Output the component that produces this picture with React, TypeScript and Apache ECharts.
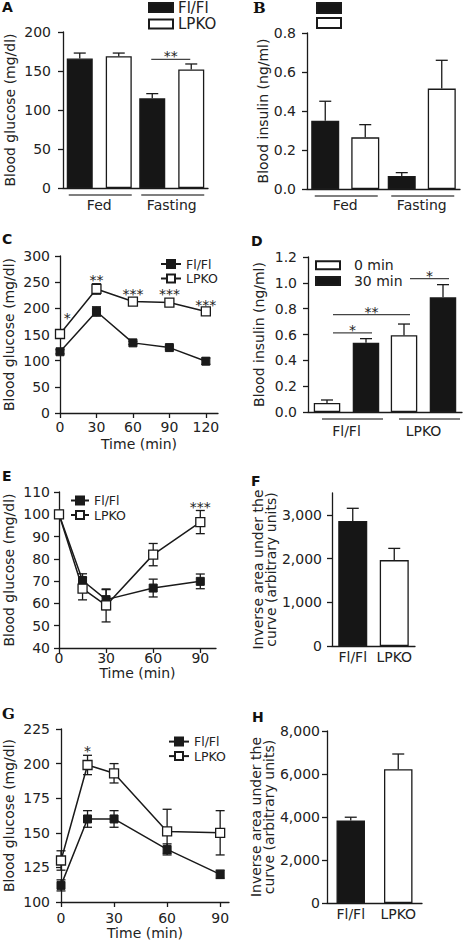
import React, { useEffect, useRef } from 'react';
import * as echarts from 'echarts';

const FONT = "'DejaVu Sans', 'Liberation Sans', Arial, sans-serif";
const SERIF = "'DejaVu Serif', 'Liberation Serif', serif";
const INK = '#1a1a1a';
const TEXT = '#222222';
const BLACK_FILL = '#161616';
const WHITE_FILL = '#ffffff';
const GREY_LINE = '#555555';

// ---------- Panel A: blood glucose, fed / fasting ----------
const feedingStates = ['Fed', 'Fasting'];
const aGlucoseFlFl = [166, 115];
const aGlucoseFlFlSem = [7, 6];
const aGlucoseLPKO = [169, 152];
const aGlucoseLPKOSem = [4, 7];
const aSigFromCat = [1];
const aSigFromSlot = [-1];
const aSigToCat = [1];
const aSigToSlot = [1];
const aSigLevels = [165];
const aSigLabels = ['**'];

// ---------- Panel B: blood insulin, fed / fasting ----------
const bInsulinFlFl = [0.35, 0.067];
const bInsulinFlFlSem = [0.1, 0.017];
const bInsulinLPKO = [0.265, 0.515];
const bInsulinLPKOSem = [0.065, 0.145];

// ---------- Panel C: glucose tolerance ----------
const cTimes = [0, 30, 60, 90, 120];
const cFlFl = [117, 194, 134, 125, 99];
const cFlFlSem = [4, 9, 3, 3, 6];
const cLPKO = [151, 237, 213, 211, 194];
const cLPKOSem = [5, 10, 5, 5, 4];
const cStarTimes = [6, 30, 60, 90, 120];
const cStarLevels = [188, 259, 233, 233, 213];
const cStarLabels = ['*', '**', '***', '***', '***'];

// ---------- Panel D: insulin at 0 / 30 min ----------
const genotypes = ['Fl/Fl', 'LPKO'];
const dInsulin0 = [0.07, 0.594];
const dInsulin0Sem = [0.023, 0.087];
const dInsulin30 = [0.537, 0.888];
const dInsulin30Sem = [0.031, 0.098];
const dSigFromCat = [0, 0, 1];
const dSigFromSlot = [-1, -1, -1];
const dSigToCat = [0, 1, 1];
const dSigToSlot = [1, -1, 1];
const dSigLevels = [0.612, 0.754, 1.032];
const dSigLabels = ['*', '**', '*'];

// ---------- Panel E: insulin tolerance ----------
const eTimes = [0, 15, 30, 60, 90];
const eFlFl = [100, 70.3, 61.7, 66.9, 69.9];
const eFlFlSem = [0, 3, 4.5, 4, 3.3];
const eLPKO = [100, 66.6, 59.1, 81.9, 96.5];
const eLPKOSem = [0, 5, 7.4, 5, 5.2];
const eStarTimes = [90];
const eStarLevels = [104.7];
const eStarLabels = ['***'];

// ---------- Panel F: inverse AUC (ITT) ----------
const fAuc = [2860, 1965];
const fAucSem = [290, 268];

// ---------- Panel G: pyruvate tolerance ----------
const gTimes = [0, 15, 30, 60, 90];
const gFlFl = [112, 160, 160, 138, 120];
const gFlFlSem = [4, 6, 6, 4, 3];
const gLPKO = [130, 199, 193, 151, 150];
const gLPKOSem = [7, 7, 7, 16, 16];
const gStarTimes = [15];
const gStarLevels = [211];
const gStarLabels = ['*'];

// ---------- Panel H: inverse AUC (PTT) ----------
const hAuc = [3840, 6220];
const hAucSem = [150, 710];

const genotypeFills = [BLACK_FILL, WHITE_FILL];

const lineStyleInk = { stroke: INK, lineWidth: 1.3 };

function yAxis(gi: number, o: any) {
  return {
    type: 'value',
    gridIndex: gi,
    min: o.min,
    max: o.max,
    interval: o.interval,
    name: o.name,
    nameLocation: 'middle',
    nameRotate: 90,
    nameGap: o.nameGap,
    nameTextStyle: { fontFamily: FONT, fontSize: 14, fontWeight: 'normal', color: TEXT, lineHeight: o.nameLineHeight || 14 },
    axisLine: { show: true, onZero: false, lineStyle: { color: INK, width: 1.3 } },
    axisTick: { show: true, length: 5, lineStyle: { color: INK, width: 1.3 }, customValues: o.ticks },
    axisLabel: { fontFamily: FONT, fontSize: 14, fontWeight: 'normal', color: TEXT, margin: o.margin, formatter: o.fmt, customValues: o.ticks },
    splitLine: { show: false },
  };
}

function timeAxis(gi: number, o: any) {
  return {
    type: 'value',
    gridIndex: gi,
    min: 0,
    max: o.max,
    interval: 30,
    name: 'Time (min)',
    nameLocation: 'middle',
    nameGap: o.nameGap,
    nameTextStyle: { fontFamily: FONT, fontSize: 14, fontWeight: 'normal', color: TEXT },
    axisLine: { show: true, onZero: false, lineStyle: { color: INK, width: 1.3 } },
    axisTick: { show: true, length: 5, lineStyle: { color: INK, width: 1.3 }, customValues: o.ticks },
    axisLabel: { fontFamily: FONT, fontSize: 14, fontWeight: 'normal', color: TEXT, margin: o.margin, customValues: o.ticks },
    splitLine: { show: false },
  };
}

function catAxis(gi: number, cats: string[], margin: number) {
  return {
    type: 'category',
    gridIndex: gi,
    data: cats,
    axisLine: { show: true, onZero: false, lineStyle: { color: INK, width: 1.3 } },
    axisTick: { show: false },
    axisLabel: { fontFamily: FONT, fontSize: 14, fontWeight: 'normal', color: TEXT, margin, interval: 0 },
    splitLine: { show: false },
  };
}

function barSeries(name: string, gi: number, data: any[], fill: string, width: number, gap: string) {
  return {
    name,
    type: 'bar',
    xAxisIndex: gi,
    yAxisIndex: gi,
    data,
    barWidth: width,
    barGap: gap,
    itemStyle: { color: fill, borderColor: INK, borderWidth: 1.3 },
    z: 2,
  };
}

function barErr(gi: number, values: number[], sems: number[], offsetPx: number) {
  return {
    type: 'custom',
    xAxisIndex: gi,
    yAxisIndex: gi,
    silent: true,
    clip: false,
    z: 3,
    data: values.map((v, i) => [i, v, sems[i]]),
    renderItem: (params: any, api: any) => {
      const c = api.value(0);
      const v = api.value(1);
      const e = api.value(2);
      const base = api.coord([c, v]);
      const tip = api.coord([c, v + e]);
      const x = base[0] + offsetPx;
      return {
        type: 'group',
        children: [
          { type: 'line', shape: { x1: x, y1: base[1], x2: x, y2: tip[1] }, style: lineStyleInk },
          { type: 'line', shape: { x1: x - 6, y1: tip[1], x2: x + 6, y2: tip[1] }, style: lineStyleInk },
        ],
      };
    },
  };
}

function lineErr(gi: number, times: number[], values: number[], sems: number[]) {
  return {
    type: 'custom',
    xAxisIndex: gi,
    yAxisIndex: gi,
    silent: true,
    clip: false,
    z: 2,
    data: times.map((t, i) => [t, values[i], sems[i]]),
    renderItem: (params: any, api: any) => {
      const t = api.value(0);
      const v = api.value(1);
      const e = api.value(2);
      if (!e) return null;
      const lo = api.coord([t, v - e]);
      const hi = api.coord([t, v + e]);
      const x = lo[0];
      return {
        type: 'group',
        children: [
          { type: 'line', shape: { x1: x, y1: lo[1], x2: x, y2: hi[1] }, style: lineStyleInk },
          { type: 'line', shape: { x1: x - 4.5, y1: lo[1], x2: x + 4.5, y2: lo[1] }, style: lineStyleInk },
          { type: 'line', shape: { x1: x - 4.5, y1: hi[1], x2: x + 4.5, y2: hi[1] }, style: lineStyleInk },
        ],
      };
    },
  };
}

function lineSeries(name: string, gi: number, times: number[], values: number[], filled: boolean) {
  return {
    name,
    type: 'line',
    xAxisIndex: gi,
    yAxisIndex: gi,
    data: times.map((t, i) => [t, values[i]]),
    symbol: 'rect',
    symbolSize: filled ? 8 : 9,
    showSymbol: true,
    lineStyle: { color: INK, width: 1.5 },
    itemStyle: filled
      ? { color: INK, borderColor: INK, borderWidth: 1 }
      : { color: WHITE_FILL, borderColor: INK, borderWidth: 1.3 },
    z: 4,
  };
}

function starSeries(gi: number, xs: number[], ys: number[], labels: string[]) {
  return {
    type: 'custom',
    xAxisIndex: gi,
    yAxisIndex: gi,
    silent: true,
    clip: false,
    z: 5,
    data: xs.map((x, i) => [x, ys[i]]),
    renderItem: (params: any, api: any) => {
      const p = api.coord([api.value(0), api.value(1)]);
      return {
        type: 'text',
        style: {
          text: labels[params.dataIndex],
          x: p[0],
          y: p[1] + 3,
          align: 'center',
          verticalAlign: 'middle',
          fontFamily: FONT,
          fontSize: 14,
          fill: TEXT,
        },
      };
    },
  };
}

function bracketSeries(
  gi: number,
  fromCat: number[],
  fromSlot: number[],
  toCat: number[],
  toSlot: number[],
  levels: number[],
  labels: string[],
  slotPx: number,
  shiftPx: number,
) {
  return {
    type: 'custom',
    xAxisIndex: gi,
    yAxisIndex: gi,
    silent: true,
    clip: false,
    z: 5,
    data: levels.map((l, i) => [fromCat[i], l]),
    renderItem: (params: any, api: any) => {
      const i = params.dataIndex;
      const p1 = api.coord([fromCat[i], levels[i]]);
      const p2 = api.coord([toCat[i], levels[i]]);
      const x1 = p1[0] + fromSlot[i] * slotPx + shiftPx;
      const x2 = p2[0] + toSlot[i] * slotPx + shiftPx;
      const y = p1[1];
      return {
        type: 'group',
        children: [
          { type: 'line', shape: { x1, y1: y, x2, y2: y }, style: { stroke: '#444', lineWidth: 1.3 } },
          {
            type: 'text',
            style: {
              text: labels[i],
              x: (x1 + x2) / 2,
              y: y - 3,
              align: 'center',
              verticalAlign: 'middle',
              fontFamily: FONT,
              fontSize: 14,
              fill: TEXT,
            },
          },
        ],
      };
    },
  };
}

function underline(gi: number, cats: string[], halfWidth: number, dx: number) {
  return {
    type: 'custom',
    xAxisIndex: gi,
    yAxisIndex: gi,
    silent: true,
    clip: false,
    z: 1,
    data: cats.map((_, i) => [i, 0]),
    renderItem: (params: any, api: any) => {
      const p = api.coord([api.value(0), 0]);
      return {
        type: 'line',
        shape: { x1: p[0] + dx - halfWidth, y1: p[1] + 7, x2: p[0] + dx + halfWidth, y2: p[1] + 7 },
        style: { stroke: GREY_LINE, lineWidth: 1.5 },
      };
    },
  };
}

function legend(names: string[], o: any) {
  return {
    data: names,
    orient: 'vertical',
    left: o.left,
    top: o.top,
    padding: 0,
    itemGap: o.gap,
    itemWidth: o.w,
    itemHeight: o.h,
    icon: o.icon,
    selectedMode: false,
    formatter: o.formatter || ((n: string) => n.split('|')[1]),
    textStyle: { fontFamily: FONT, fontSize: o.fontSize || 14, fontWeight: 'normal', color: TEXT, lineHeight: o.lh },
  };
}

function panelTitle(text: string, left: number, top: number, serif: boolean) {
  return {
    text,
    left,
    top,
    padding: 0,
    textStyle: { fontFamily: serif ? SERIF : FONT, fontWeight: 'bold', fontSize: serif ? 15 : 14, color: '#111' },
  };
}

const commaFmt = (v: number) => v.toLocaleString('en-US');
const oneDec = (v: number) => v.toFixed(1);

function buildOption() {
  const grids = [
    { left: 63, top: 32, width: 145, height: 156 },
    { left: 307, top: 33, width: 153, height: 156 },
    { left: 60, top: 256, width: 158, height: 157 },
    { left: 308, top: 257, width: 154, height: 155 },
    { left: 59, top: 492, width: 157, height: 156 },
    { left: 332, top: 493, width: 83, height: 153 },
    { left: 61, top: 729, width: 168, height: 173 },
    { left: 327, top: 731, width: 95, height: 172 },
  ].map((g) => ({ ...g, containLabel: false, outerBoundsMode: 'none' }));

  const xAxes = [
    catAxis(0, feedingStates, 10),
    catAxis(1, feedingStates, 9),
    timeAxis(2, { max: 130, ticks: [0, 30, 60, 90, 120], nameGap: 24, margin: 7 }),
    catAxis(3, genotypes, 12),
    timeAxis(4, { max: 100, ticks: [0, 30, 60, 90], nameGap: 17, margin: 3 }),
    catAxis(5, genotypes, 4),
    timeAxis(6, { max: 95, ticks: [0, 30, 60, 90], nameGap: 23, margin: 9 }),
    catAxis(7, genotypes, 4),
  ];

  const twoLine = 'Inverse area under the\ncurve (arbitrary units)';
  const yAxes = [
    yAxis(0, { min: 0, max: 200, interval: 50, name: 'Blood glucose (mg/dl)', nameGap: 46, margin: 12 }),
    yAxis(1, { min: 0, max: 0.8, interval: 0.2, name: 'Blood insulin (ng/ml)', nameGap: 37, margin: 11, fmt: oneDec }),
    yAxis(2, { min: 0, max: 300, interval: 50, name: 'Blood glucose (mg/dl)', nameGap: 44, margin: 10 }),
    yAxis(3, { min: 0, max: 1.2, interval: 0.2, name: 'Blood insulin (ng/ml)', nameGap: 42, margin: 11, fmt: oneDec }),
    yAxis(4, { min: 40, max: 110, interval: 10, name: 'Blood glucose (mg/dl)', nameGap: 43, margin: 9 }),
    yAxis(5, { min: 0, max: 3500, interval: 1000, ticks: [0, 1000, 2000, 3000], name: twoLine, nameGap: 50, nameLineHeight: 13, margin: 10, fmt: commaFmt }),
    yAxis(6, { min: 100, max: 225, interval: 25, name: 'Blood glucose (mg/dl)', nameGap: 45, margin: 11 }),
    yAxis(7, { min: 0, max: 8000, interval: 2000, name: twoLine, nameGap: 47, nameLineHeight: 13, margin: 7, fmt: commaFmt }),
  ];

  const series: any[] = [
    // A
    barSeries('A|Fl/Fl', 0, aGlucoseFlFl, BLACK_FILL, 26, '50%'),
    barSeries('A|LPKO', 0, aGlucoseLPKO, WHITE_FILL, 26, '50%'),
    barErr(0, aGlucoseFlFl, aGlucoseFlFlSem, -19.5),
    barErr(0, aGlucoseLPKO, aGlucoseLPKOSem, 19.5),
    bracketSeries(0, aSigFromCat, aSigFromSlot, aSigToCat, aSigToSlot, aSigLevels, aSigLabels, 19.5, -1),
    underline(0, feedingStates, 31.5, 1),
    // B
    barSeries('B|Fl/Fl', 1, bInsulinFlFl, BLACK_FILL, 28, '43%'),
    barSeries('B|LPKO', 1, bInsulinLPKO, WHITE_FILL, 28, '43%'),
    barErr(1, bInsulinFlFl, bInsulinFlFlSem, -20),
    barErr(1, bInsulinLPKO, bInsulinLPKOSem, 20),
    underline(1, feedingStates, 31.5, 1),
    // C
    lineErr(2, cTimes, cFlFl, cFlFlSem),
    lineErr(2, cTimes, cLPKO, cLPKOSem),
    lineSeries('C|Fl/Fl', 2, cTimes, cFlFl, true),
    lineSeries('C|LPKO', 2, cTimes, cLPKO, false),
    starSeries(2, cStarTimes, cStarLevels, cStarLabels),
    // D
    barSeries('D|0 min', 3, dInsulin0, WHITE_FILL, 26.5, '47%'),
    barSeries('D|30 min', 3, dInsulin30, BLACK_FILL, 26.5, '47%'),
    barErr(3, dInsulin0, dInsulin0Sem, -19.5),
    barErr(3, dInsulin30, dInsulin30Sem, 19.5),
    bracketSeries(3, dSigFromCat, dSigFromSlot, dSigToCat, dSigToSlot, dSigLevels, dSigLabels, 19.5, 6),
    underline(3, genotypes, 30.5, 6),
    // E
    lineErr(4, eTimes, eFlFl, eFlFlSem),
    lineErr(4, eTimes, eLPKO, eLPKOSem),
    lineSeries('E|Fl/Fl', 4, eTimes, eFlFl, true),
    lineSeries('E|LPKO', 4, eTimes, eLPKO, false),
    starSeries(4, eStarTimes, eStarLevels, eStarLabels),
    // F
    barSeries('F|auc', 5, fAuc.map((v, i) => ({ value: v, itemStyle: { color: genotypeFills[i] } })), BLACK_FILL, 29, '0%'),
    barErr(5, fAuc, fAucSem, 0),
    // G
    lineErr(6, gTimes, gFlFl, gFlFlSem),
    lineErr(6, gTimes, gLPKO, gLPKOSem),
    lineSeries('G|Fl/Fl', 6, gTimes, gFlFl, true),
    lineSeries('G|LPKO', 6, gTimes, gLPKO, false),
    starSeries(6, gStarTimes, gStarLevels, gStarLabels),
    // H
    barSeries('H|auc', 7, hAuc.map((v, i) => ({ value: v, itemStyle: { color: genotypeFills[i] } })), BLACK_FILL, 28.5, '0%'),
    barErr(7, hAuc, hAucSem, 0),
  ];

  const legends = [
    legend(['A|Fl/Fl', 'A|LPKO'], { left: 148, top: 0, gap: 1.5, w: 24, h: 9, icon: 'rect', lh: 15, fontSize: 15 }),
    legend(['B|Fl/Fl', 'B|LPKO'], { left: 316, top: 0.5, gap: 0, w: 24, h: 10, icon: 'rect', lh: 15, formatter: () => ' ' }),
    legend(['C|Fl/Fl', 'C|LPKO'], { left: 160, top: 256.75, gap: 0, w: 20, h: 10, lh: 14.5, fontSize: 12.5 }),
    legend(['D|0 min', 'D|30 min'], { left: 315, top: 257.8, gap: 0.7, w: 24, h: 8, icon: 'rect', lh: 15, formatter: (n: string) => '  ' + n.split('|')[1] }),
    legend(['E|Fl/Fl', 'E|LPKO'], { left: 70, top: 493.25, gap: 0, w: 18, h: 10, lh: 14.5, fontSize: 12.5 }),
    legend(['G|Fl/Fl', 'G|LPKO'], { left: 168, top: 734.35, gap: 0, w: 20, h: 10, lh: 14.5, fontSize: 12.5 }),
  ];

  const titles = [
    panelTitle('A', 2, 0, false),
    panelTitle('B', 253, 0, true),
    panelTitle('C', 2, 232, false),
    panelTitle('D', 251, 234, false),
    panelTitle('E', 2, 469, false),
    panelTitle('F', 251, 474, false),
    panelTitle('G', 2, 706, true),
    panelTitle('H', 252, 710, false),
  ];

  return {
    animation: false,
    backgroundColor: '#ffffff',
    textStyle: { fontFamily: FONT },
    title: titles,
    legend: legends,
    grid: grids,
    xAxis: xAxes,
    yAxis: yAxes,
    series,
  };
}

export default function App() {
  const ref = useRef<HTMLDivElement>(null);
  useEffect(() => {
    if (!ref.current) return;
    const chart = echarts.init(ref.current, null, { renderer: 'svg' });
    chart.setOption(buildOption() as any);
    return () => chart.dispose();
  }, []);
  return (
    <div
      ref={ref}
      style={{ position: 'absolute', left: 0, top: 0, width: 467, height: 941, background: '#ffffff' }}
    />
  );
}
